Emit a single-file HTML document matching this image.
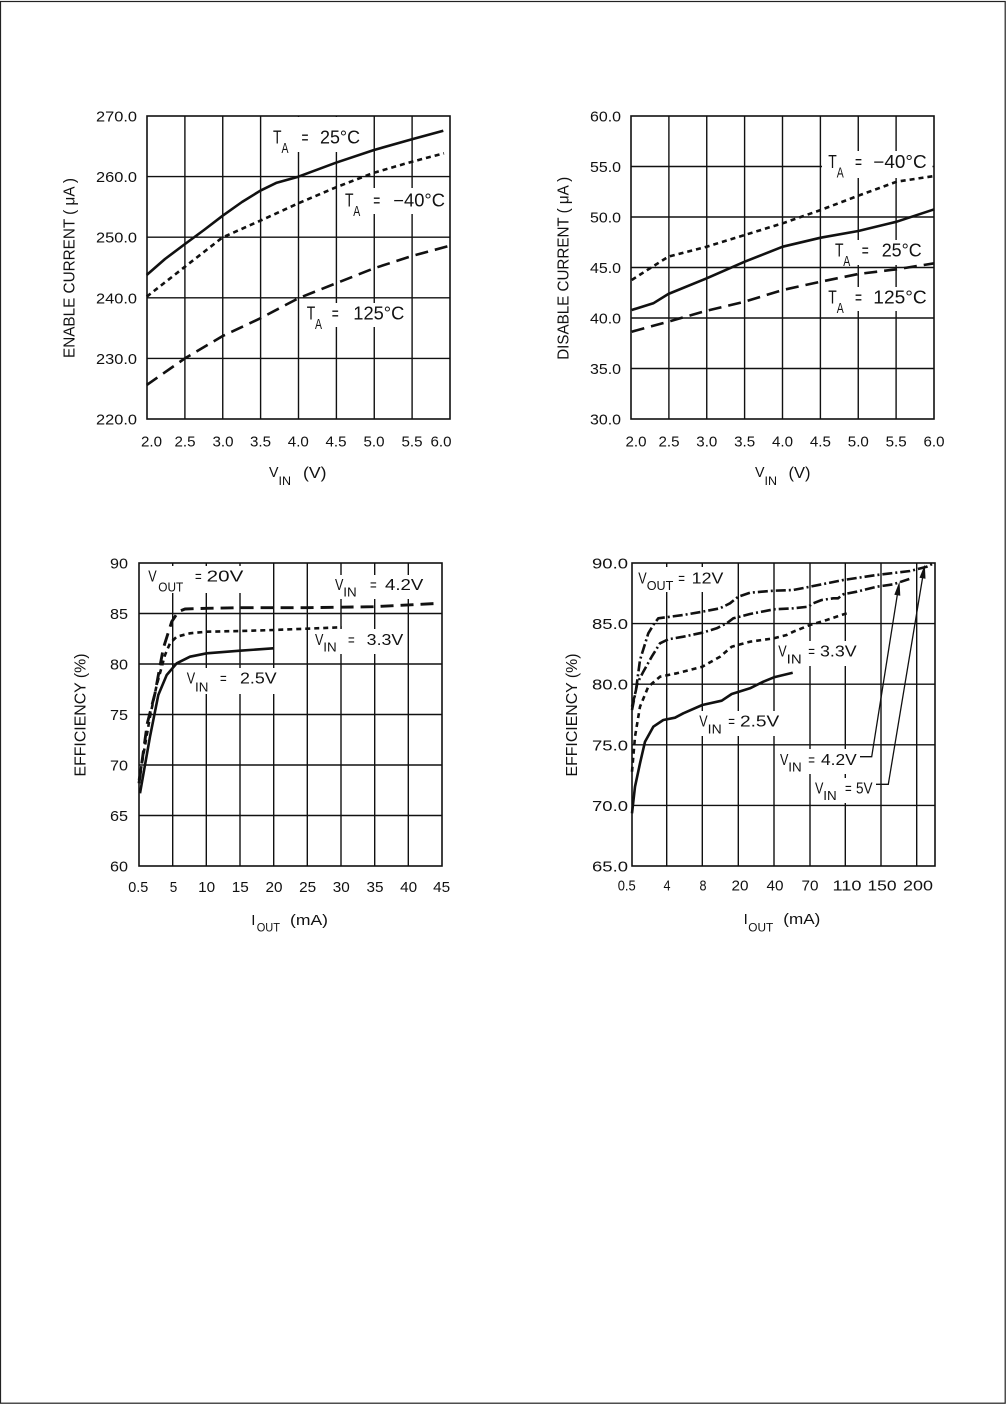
<!DOCTYPE html>
<html><head><meta charset="utf-8"><style>
html,body{margin:0;padding:0;background:#fff;}
svg{display:block;}
text{font-family:"Liberation Sans",sans-serif;fill:#111;}
.t{font-size:15px;}
.g{stroke:#111;stroke-width:1.4;fill:none;}
.b{stroke:#111;stroke-width:1.6;fill:none;}
.c{fill:none;stroke:#111;stroke-width:2.6;stroke-linejoin:round;stroke-linecap:butt;}
.dot{stroke-dasharray:5 4;}
.dash{stroke-dasharray:13 7;}
.dd{stroke-dasharray:10 3 2 3;}
.L{font-size:18px;}
.S{font-size:15px;}
.L2{font-size:16px;}
.S2{font-size:13px;}
</style></head><body>
<svg width="1006" height="1404" viewBox="0 0 1006 1404" xmlns="http://www.w3.org/2000/svg">
<rect x="0" y="0" width="1006" height="1404" fill="#fff"/>
<rect x="0.5" y="1.5" width="1004.7" height="1401.7" fill="none" stroke="#222" stroke-width="1.2"/>

<!-- ================= CHART 1 ================= -->
<g>
<path class="g" d="M184.9 116V419M222.75 116V419M260.6 116V419M298.5 116V419M336.4 116V419M374.25 116V419M412.1 116V419M147 176.6H450M147 237.2H450M147 297.8H450M147 358.4H450"/>
<rect x="270" y="117" width="94" height="35" fill="#fff"/>
<rect x="342" y="188" width="106" height="26" fill="#fff"/>
<rect x="303" y="303" width="105" height="24" fill="#fff"/>
<rect class="b" x="147" y="116" width="303" height="303"/>
<polyline class="c" points="146.7,275 165,259 185,244 204,230 222.7,215.7 242,202 260.3,190.7 276.7,182.7 298.3,176.7 336,162.7 374,150 412,139.3 443.3,130.7"/>
<polyline class="c dot" points="146.7,296.7 185,266.7 222.7,237.3 260.3,220.7 298.3,203.3 336,187.3 374,172.7 412,161.7 444,153.3"/>
<polyline class="c dash" points="146.7,385 185,358.3 222.7,336 260.3,318.3 298.3,298.3 336,283.3 374,268.3 412,256 450,245.7"/>
<g class="t" text-anchor="end">
<text x="137" y="121.5" textLength="41" lengthAdjust="spacingAndGlyphs">270.0</text>
<text x="137" y="182.1" textLength="41" lengthAdjust="spacingAndGlyphs">260.0</text>
<text x="137" y="242.7" textLength="41" lengthAdjust="spacingAndGlyphs">250.0</text>
<text x="137" y="303.3" textLength="41" lengthAdjust="spacingAndGlyphs">240.0</text>
<text x="137" y="363.9" textLength="41" lengthAdjust="spacingAndGlyphs">230.0</text>
<text x="137" y="424.5" textLength="41" lengthAdjust="spacingAndGlyphs">220.0</text>
</g>
<g class="t" text-anchor="middle">
<text x="151.5" y="446.5" textLength="21" lengthAdjust="spacingAndGlyphs">2.0</text>
<text x="185" y="446.5" textLength="21" lengthAdjust="spacingAndGlyphs">2.5</text>
<text x="223" y="446.5" textLength="21" lengthAdjust="spacingAndGlyphs">3.0</text>
<text x="260.5" y="446.5" textLength="21" lengthAdjust="spacingAndGlyphs">3.5</text>
<text x="298.3" y="446.5" textLength="21" lengthAdjust="spacingAndGlyphs">4.0</text>
<text x="336" y="446.5" textLength="21" lengthAdjust="spacingAndGlyphs">4.5</text>
<text x="374" y="446.5" textLength="21" lengthAdjust="spacingAndGlyphs">5.0</text>
<text x="412" y="446.5" textLength="21" lengthAdjust="spacingAndGlyphs">5.5</text>
<text x="441" y="446.5" textLength="21" lengthAdjust="spacingAndGlyphs">6.0</text>
</g>
<text class="t" x="269" y="477" textLength="9.5" lengthAdjust="spacingAndGlyphs">V</text>
<text style="font-size:12px" x="278.5" y="485" textLength="12.5" lengthAdjust="spacingAndGlyphs">IN</text>
<text style="font-size:16px" x="303" y="478" textLength="23.5" lengthAdjust="spacingAndGlyphs">(V)</text>
<text style="font-size:15.5px" text-anchor="middle" transform="translate(74.5,268) rotate(-90)" textLength="180" lengthAdjust="spacingAndGlyphs">ENABLE CURRENT ( μA )</text>
<!-- labels -->
<text class="L" x="273" y="143.3" textLength="8.5" lengthAdjust="spacingAndGlyphs">T</text>
<text class="S" x="281.5" y="153" textLength="7" lengthAdjust="spacingAndGlyphs">A</text>
<text class="L" x="301.5" y="143.3" textLength="7" lengthAdjust="spacingAndGlyphs">=</text>
<text class="L" x="320" y="143.3" textLength="40" lengthAdjust="spacingAndGlyphs">25°C</text>

<text class="L" x="345" y="206.3" textLength="8.5" lengthAdjust="spacingAndGlyphs">T</text>
<text class="S" x="353.3" y="216" textLength="7" lengthAdjust="spacingAndGlyphs">A</text>
<text class="L" x="373.3" y="206.3" textLength="7" lengthAdjust="spacingAndGlyphs">=</text>
<text class="L" x="393.3" y="206.3" textLength="51.7" lengthAdjust="spacingAndGlyphs">−40°C</text>

<text class="L" x="306.7" y="319.5" textLength="8.5" lengthAdjust="spacingAndGlyphs">T</text>
<text class="S" x="315" y="329" textLength="7" lengthAdjust="spacingAndGlyphs">A</text>
<text class="L" x="331.7" y="319.5" textLength="7" lengthAdjust="spacingAndGlyphs">=</text>
<text class="L" x="353.3" y="319.5" textLength="51" lengthAdjust="spacingAndGlyphs">125°C</text>
</g>

<!-- ================= CHART 2 ================= -->
<g>
<path class="g" d="M668.9 116V419M706.75 116V419M744.6 116V419M782.5 116V419M820.4 116V419M858.25 116V419M896.1 116V419M631 166.5H934M631 217H934M631 267.5H934M631 318H934M631 368.5H934"/>
<rect x="822" y="151" width="110.5" height="27" fill="#fff"/>
<rect x="832" y="240" width="93" height="25" fill="#fff"/>
<rect x="825" y="287" width="105" height="24" fill="#fff"/>
<rect class="b" x="631" y="116" width="303" height="303"/>
<polyline class="c dot" points="631.7,280 650,268.3 668.3,256.7 706.7,246.7 744.7,235 782.7,223.3 820.7,210 858.3,195.7 896.7,181.7 934.3,176"/>
<polyline class="c" points="631.7,310 653.3,303.3 668.3,294 706.7,278.3 744.7,261.7 782.7,246.7 820.7,237.7 858.3,231 896.7,221.7 934.3,209.3"/>
<polyline class="c dash" points="631.7,331.7 668.3,321.7 706.7,310.7 744.7,301.7 782.7,290 820.7,281.7 858.3,274 896.7,269.3 934.3,263.3"/>
<g class="t" text-anchor="end">
<text x="621" y="121.5" textLength="31" lengthAdjust="spacingAndGlyphs">60.0</text>
<text x="621" y="172" textLength="31" lengthAdjust="spacingAndGlyphs">55.0</text>
<text x="621" y="222.5" textLength="31" lengthAdjust="spacingAndGlyphs">50.0</text>
<text x="621" y="273" textLength="31" lengthAdjust="spacingAndGlyphs">45.0</text>
<text x="621" y="323.5" textLength="31" lengthAdjust="spacingAndGlyphs">40.0</text>
<text x="621" y="374" textLength="31" lengthAdjust="spacingAndGlyphs">35.0</text>
<text x="621" y="424.5" textLength="31" lengthAdjust="spacingAndGlyphs">30.0</text>
</g>
<g class="t" text-anchor="middle">
<text x="636" y="446.5" textLength="21" lengthAdjust="spacingAndGlyphs">2.0</text>
<text x="669" y="446.5" textLength="21" lengthAdjust="spacingAndGlyphs">2.5</text>
<text x="706.8" y="446.5" textLength="21" lengthAdjust="spacingAndGlyphs">3.0</text>
<text x="744.6" y="446.5" textLength="21" lengthAdjust="spacingAndGlyphs">3.5</text>
<text x="782.5" y="446.5" textLength="21" lengthAdjust="spacingAndGlyphs">4.0</text>
<text x="820.4" y="446.5" textLength="21" lengthAdjust="spacingAndGlyphs">4.5</text>
<text x="858.3" y="446.5" textLength="21" lengthAdjust="spacingAndGlyphs">5.0</text>
<text x="896.1" y="446.5" textLength="21" lengthAdjust="spacingAndGlyphs">5.5</text>
<text x="934" y="446.5" textLength="21" lengthAdjust="spacingAndGlyphs">6.0</text>
</g>
<text class="t" x="755" y="477" textLength="9.5" lengthAdjust="spacingAndGlyphs">V</text>
<text style="font-size:12px" x="764.5" y="485" textLength="12.5" lengthAdjust="spacingAndGlyphs">IN</text>
<text style="font-size:16px" x="788.5" y="478" textLength="22" lengthAdjust="spacingAndGlyphs">(V)</text>
<text style="font-size:15.5px" text-anchor="middle" transform="translate(568.5,268.3) rotate(-90)" textLength="183" lengthAdjust="spacingAndGlyphs">DISABLE CURRENT ( μA )</text>

<text class="L" x="828.3" y="168" textLength="8.5" lengthAdjust="spacingAndGlyphs">T</text>
<text class="S" x="836.7" y="177.5" textLength="7" lengthAdjust="spacingAndGlyphs">A</text>
<text class="L" x="855" y="168" textLength="7" lengthAdjust="spacingAndGlyphs">=</text>
<text class="L" x="873.3" y="168" textLength="53.4" lengthAdjust="spacingAndGlyphs">−40°C</text>

<text class="L" x="835" y="256.5" textLength="8.5" lengthAdjust="spacingAndGlyphs">T</text>
<text class="S" x="843.3" y="266" textLength="7" lengthAdjust="spacingAndGlyphs">A</text>
<text class="L" x="861.7" y="256.5" textLength="7" lengthAdjust="spacingAndGlyphs">=</text>
<text class="L" x="881.7" y="256.5" textLength="40" lengthAdjust="spacingAndGlyphs">25°C</text>

<text class="L" x="828.3" y="303.5" textLength="8.5" lengthAdjust="spacingAndGlyphs">T</text>
<text class="S" x="836.7" y="313" textLength="7" lengthAdjust="spacingAndGlyphs">A</text>
<text class="L" x="855" y="303.5" textLength="7" lengthAdjust="spacingAndGlyphs">=</text>
<text class="L" x="873.3" y="303.5" textLength="53.4" lengthAdjust="spacingAndGlyphs">125°C</text>
</g>

<!-- ================= CHART 3 ================= -->
<g>
<path class="g" d="M172.7 563V866M206.3 563V866M240 563V866M273.7 563V866M307.3 563V866M341 563V866M374.7 563V866M408.3 563V866M139 613.5H442M139 664H442M139 714.5H442M139 765H442M139 815.5H442"/>
<rect x="146" y="566" width="100" height="27" fill="#fff"/>
<rect x="332" y="575" width="95" height="24" fill="#fff"/>
<rect x="312" y="629" width="94" height="25" fill="#fff"/>
<rect x="183" y="668" width="96" height="26" fill="#fff"/>
<rect class="b" x="139" y="563" width="303" height="303"/>
<polyline class="c dash" style="stroke-width:2.9" points="139,783.3 147.3,723.3 155,693.3 163.3,648.3 171.7,621.7 178.3,611.7 185,609 206.7,608.3 240,607.7 306.7,607.7 373.3,606.7 440,603.3"/>
<polyline class="c dot" points="139,780 150,716.7 156.7,685 165,655 170,643.3 176.7,636.7 190,633.3 206.7,631.7 240,631 273.3,630 341.7,627.3"/>
<polyline class="c" points="140,793.3 150,736.7 158.3,695 166.7,675 176.7,663.3 190,656.7 206.7,653.3 240,650.7 273.3,648.3"/>
<g class="t" text-anchor="end">
<text x="128" y="568.5" textLength="18" lengthAdjust="spacingAndGlyphs">90</text>
<text x="128" y="619" textLength="18" lengthAdjust="spacingAndGlyphs">85</text>
<text x="128" y="669.5" textLength="18" lengthAdjust="spacingAndGlyphs">80</text>
<text x="128" y="720" textLength="18" lengthAdjust="spacingAndGlyphs">75</text>
<text x="128" y="770.5" textLength="18" lengthAdjust="spacingAndGlyphs">70</text>
<text x="128" y="821" textLength="18" lengthAdjust="spacingAndGlyphs">65</text>
<text x="128" y="871.5" textLength="18" lengthAdjust="spacingAndGlyphs">60</text>
</g>
<g class="t" text-anchor="middle">
<text x="138.3" y="892" textLength="20" lengthAdjust="spacingAndGlyphs">0.5</text>
<text x="173.5" y="892" textLength="7.5" lengthAdjust="spacingAndGlyphs">5</text>
<text x="206.7" y="892" textLength="17" lengthAdjust="spacingAndGlyphs">10</text>
<text x="240.3" y="892" textLength="17" lengthAdjust="spacingAndGlyphs">15</text>
<text x="274" y="892" textLength="17" lengthAdjust="spacingAndGlyphs">20</text>
<text x="307.7" y="892" textLength="17" lengthAdjust="spacingAndGlyphs">25</text>
<text x="341.3" y="892" textLength="17" lengthAdjust="spacingAndGlyphs">30</text>
<text x="375" y="892" textLength="17" lengthAdjust="spacingAndGlyphs">35</text>
<text x="408.7" y="892" textLength="17" lengthAdjust="spacingAndGlyphs">40</text>
<text x="441.7" y="892" textLength="17" lengthAdjust="spacingAndGlyphs">45</text>
</g>
<text class="t" x="251.3" y="925">I</text>
<text style="font-size:12px" x="256.7" y="931.7" textLength="23.3" lengthAdjust="spacingAndGlyphs">OUT</text>
<text class="t" x="290" y="925" textLength="38" lengthAdjust="spacingAndGlyphs">(mA)</text>
<text style="font-size:15.5px" text-anchor="middle" transform="translate(85.5,715) rotate(-90)" textLength="123" lengthAdjust="spacingAndGlyphs">EFFICIENCY (%)</text>

<text class="L2" x="148.3" y="581.7" textLength="8.4" lengthAdjust="spacingAndGlyphs">V</text>
<text class="S2" x="158.3" y="591.5" textLength="25" lengthAdjust="spacingAndGlyphs">OUT</text>
<text class="L2" x="195" y="581.7" textLength="6.7" lengthAdjust="spacingAndGlyphs">=</text>
<text class="L2" x="206.7" y="581.7" textLength="36.6" lengthAdjust="spacingAndGlyphs">20V</text>

<text class="L2" x="335" y="590" textLength="8.4" lengthAdjust="spacingAndGlyphs">V</text>
<text class="S2" x="343.3" y="596.7" textLength="13.4" lengthAdjust="spacingAndGlyphs">IN</text>
<text class="L2" x="370" y="590" textLength="6.7" lengthAdjust="spacingAndGlyphs">=</text>
<text class="L2" x="385" y="590" textLength="38.3" lengthAdjust="spacingAndGlyphs">4.2V</text>

<text class="L2" x="315" y="645" textLength="8.4" lengthAdjust="spacingAndGlyphs">V</text>
<text class="S2" x="323.3" y="651.7" textLength="13.4" lengthAdjust="spacingAndGlyphs">IN</text>
<text class="L2" x="348" y="645" textLength="6.7" lengthAdjust="spacingAndGlyphs">=</text>
<text class="L2" x="366.7" y="645" textLength="36.6" lengthAdjust="spacingAndGlyphs">3.3V</text>

<text class="L2" x="186.7" y="683.3" textLength="8.4" lengthAdjust="spacingAndGlyphs">V</text>
<text class="S2" x="195" y="691.7" textLength="13.4" lengthAdjust="spacingAndGlyphs">IN</text>
<text class="L2" x="220" y="683.3" textLength="6.7" lengthAdjust="spacingAndGlyphs">=</text>
<text class="L2" x="240" y="683.3" textLength="36.7" lengthAdjust="spacingAndGlyphs">2.5V</text>
</g>

<!-- ================= CHART 4 ================= -->
<g>
<path class="g" d="M666.7 563V866M702.3 563V866M738.3 563V866M774 563V866M810 563V866M845.3 563V866M881 563V866M916.7 563V866M632 623.6H935M632 684.2H935M632 744.8H935M632 805.4H935"/>
<rect x="635" y="567" width="92" height="25" fill="#fff"/>
<rect x="775" y="641" width="85" height="25" fill="#fff"/>
<rect x="696" y="711" width="87" height="25" fill="#fff"/>
<rect x="777" y="749" width="83" height="25" fill="#fff"/>
<rect x="812" y="778" width="63" height="25" fill="#fff"/>
<rect class="b" x="632" y="563" width="303" height="303"/>
<polyline class="c dd" points="632,706.7 636,690 640,660 648.3,633.3 653.3,625 658.3,618.3 683.3,615 702.3,611.7 720,608.3 730,603.3 738.3,596.7 750,592.7 774,590.7 793.3,590 810,586.7 843.3,580 876.7,575 910,571 926.7,566.7 933.3,563.5"/>
<polyline class="c dd" points="632,710 637.3,683.3 643.3,671.7 651.7,656.7 660,643.3 668.3,639.3 683.3,636.7 702.3,632.7 716.7,628.3 726.7,623.3 733.3,618.3 750,614 774,609.3 793.3,608.3 808.3,606.7 813.3,603.3 821.7,600 833.3,598.3 838,598.3 843.3,594.3 856.7,591.7 876.7,586.7 893.3,584.3 909.3,579"/>
<polyline class="c dot" points="632,771.7 635,736.7 640,706.7 648.3,686.7 660,676.7 676.7,673.3 702.3,666.7 720,656.7 731.7,646.7 750,641.7 774,638.3 786.7,635 793.3,631.7 810,625 826.7,620 846.7,613.3"/>
<polyline class="c" points="632,813.3 635,786.7 640,763.3 645,741.7 653.3,726.7 663.3,720 675,717.7 683.3,713.3 702.3,705 721.7,700.7 731.7,694 750,688.3 763.3,681.7 774,677.3 792.7,672.7"/>
<g class="t" text-anchor="end">
<text x="628" y="568.5" textLength="36" lengthAdjust="spacingAndGlyphs">90.0</text>
<text x="628" y="629.1" textLength="36" lengthAdjust="spacingAndGlyphs">85.0</text>
<text x="628" y="689.7" textLength="36" lengthAdjust="spacingAndGlyphs">80.0</text>
<text x="628" y="750.3" textLength="36" lengthAdjust="spacingAndGlyphs">75.0</text>
<text x="628" y="810.9" textLength="36" lengthAdjust="spacingAndGlyphs">70.0</text>
<text x="628" y="871.5" textLength="36" lengthAdjust="spacingAndGlyphs">65.0</text>
</g>
<g class="t" text-anchor="middle">
<text x="626.7" y="890.5" textLength="18" lengthAdjust="spacingAndGlyphs">0.5</text>
<text x="667" y="890.5" textLength="7" lengthAdjust="spacingAndGlyphs">4</text>
<text x="703" y="890.5" textLength="7" lengthAdjust="spacingAndGlyphs">8</text>
<text x="740" y="890.5" textLength="17" lengthAdjust="spacingAndGlyphs">20</text>
<text x="775" y="890.5" textLength="17" lengthAdjust="spacingAndGlyphs">40</text>
<text x="810" y="890.5" textLength="17" lengthAdjust="spacingAndGlyphs">70</text>
<text x="847" y="890.5" textLength="29" lengthAdjust="spacingAndGlyphs">110</text>
<text x="882" y="890.5" textLength="29" lengthAdjust="spacingAndGlyphs">150</text>
<text x="918" y="890.5" textLength="30" lengthAdjust="spacingAndGlyphs">200</text>
</g>
<text class="t" x="743.6" y="924">I</text>
<text style="font-size:12px" x="748.3" y="931.7" textLength="25" lengthAdjust="spacingAndGlyphs">OUT</text>
<text class="t" x="783.3" y="924" textLength="37" lengthAdjust="spacingAndGlyphs">(mA)</text>
<text style="font-size:15.5px" text-anchor="middle" transform="translate(577,715) rotate(-90)" textLength="123" lengthAdjust="spacingAndGlyphs">EFFICIENCY (%)</text>

<text class="L2" x="638.3" y="583.3" textLength="8.4" lengthAdjust="spacingAndGlyphs">V</text>
<text class="S2" x="646.7" y="590" textLength="26.6" lengthAdjust="spacingAndGlyphs">OUT</text>
<text class="L2" x="678.3" y="583.3" textLength="6.7" lengthAdjust="spacingAndGlyphs">=</text>
<text class="L2" x="691.7" y="583.3" textLength="31.6" lengthAdjust="spacingAndGlyphs">12V</text>

<text class="L2" x="778.3" y="656.7" textLength="8.4" lengthAdjust="spacingAndGlyphs">V</text>
<text class="S2" x="786.7" y="663.3" textLength="15" lengthAdjust="spacingAndGlyphs">IN</text>
<text class="L2" x="808.3" y="656.7" textLength="6.7" lengthAdjust="spacingAndGlyphs">=</text>
<text class="L2" x="820" y="656.7" textLength="36.7" lengthAdjust="spacingAndGlyphs">3.3V</text>

<text class="L2" x="699.3" y="726.7" textLength="8.4" lengthAdjust="spacingAndGlyphs">V</text>
<text class="S2" x="707.7" y="733.3" textLength="14" lengthAdjust="spacingAndGlyphs">IN</text>
<text class="L2" x="728.3" y="726.7" textLength="6.7" lengthAdjust="spacingAndGlyphs">=</text>
<text class="L2" x="740" y="726.7" textLength="39.3" lengthAdjust="spacingAndGlyphs">2.5V</text>

<text class="L2" x="780" y="765" textLength="8.4" lengthAdjust="spacingAndGlyphs">V</text>
<text class="S2" x="788.3" y="771.7" textLength="13.4" lengthAdjust="spacingAndGlyphs">IN</text>
<text class="L2" x="808.3" y="765" textLength="6.7" lengthAdjust="spacingAndGlyphs">=</text>
<text class="L2" x="821" y="765" textLength="35.7" lengthAdjust="spacingAndGlyphs">4.2V</text>

<text class="L2" x="815" y="793.3" textLength="8.4" lengthAdjust="spacingAndGlyphs">V</text>
<text class="S2" x="823.3" y="800" textLength="13.4" lengthAdjust="spacingAndGlyphs">IN</text>
<text class="L2" x="845" y="793.3" textLength="6.7" lengthAdjust="spacingAndGlyphs">=</text>
<text class="L2" x="856" y="793.3" textLength="16.6" lengthAdjust="spacingAndGlyphs">5V</text>

<polyline points="860,756.7 871.7,756.7 897.6,593" fill="none" stroke="#111" stroke-width="1.3"/>
<polygon points="899.5,581.5 900.3,595.8 894.3,594.8" fill="#111"/>
<polyline points="876,784.3 888.3,784.3 922.7,577" fill="none" stroke="#111" stroke-width="1.3"/>
<polygon points="924.8,564.5 925.5,578.8 919.5,577.8" fill="#111"/>
</g>
</svg>
</body></html>
